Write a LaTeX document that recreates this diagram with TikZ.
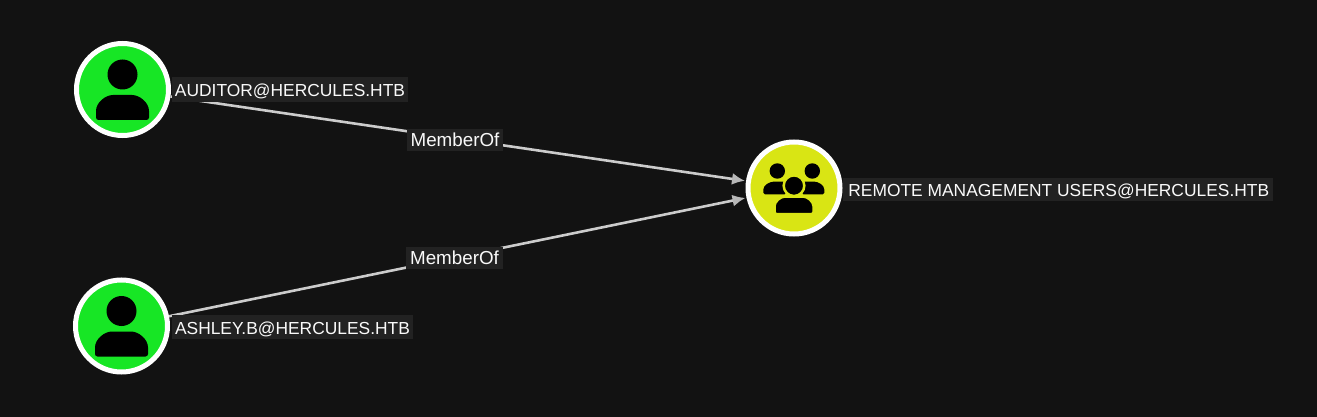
\documentclass[tikz,border=0pt]{standalone}
\usepackage{fontspec}
\setmainfont{Liberation Sans}
\usetikzlibrary{arrows.meta}
\definecolor{bgc}{HTML}{121212}
\definecolor{usergreen}{HTML}{17E625}
\definecolor{groupyellow}{HTML}{D9E514}
\definecolor{labelbg}{HTML}{222222}
\definecolor{edgec}{HTML}{CCCCCC}
\definecolor{textc}{HTML}{FAFAFA}
\newcommand{\lowtext}[1]{\raisebox{-7.4pt}[0pt][0pt]{#1}}
\tikzset{
  objnode/.style={circle,draw=white,line width=5pt,minimum size=92pt,inner sep=0pt},
  usernode/.style={objnode,fill=usergreen},
  groupnode/.style={objnode,fill=groupyellow},
  namelabel/.style={fill=labelbg,text=textc,inner sep=0pt,anchor=center,font=\fontsize{17.4}{20}\selectfont},
  edgelabel/.style={namelabel,font=\fontsize{18.8}{20}\selectfont},
  link/.style={draw=edgec,line width=2.6pt,-{Latex[length=13pt,width=12pt,color=edgec!90!black]},shorten >=1pt},
  pics/personicon/.style={code={
    \fill[black] (0,-15) circle (15);
    \fill[black,rounded corners=2.5pt] (-26.5,30.5) -- (-26.5,24) .. controls (-26.5,13) and (-17,5.5) .. (-7,5.5) -- (7,5.5) .. controls (17,5.5) and (26.5,13) .. (26.5,24) -- (26.5,30.5) -- cycle;
  }},
  pics/groupicon/.style={code={
    \fill[black] (-16.7,-17) circle (7.7);
    \fill[black] (18.3,-17) circle (7.7);
    \fill[black,rounded corners=1.5pt] (-30.7,6.3) -- (-30.7,3) .. controls (-30.7,-3) and (-24,-6.3) .. (-19,-6.3) -- (-8,-6.3) -- (-8,6.3) -- cycle;
    \fill[black,rounded corners=1.5pt] (30.3,6.3) -- (30.3,3) .. controls (30.3,-3) and (24,-6.3) .. (19,-6.3) -- (8,-6.3) -- (8,6.3) -- cycle;
    \fill[black,draw=groupyellow,line width=2.5pt] (0,-2.3) circle (10.3);
    \fill[black,draw=groupyellow,line width=2.5pt,rounded corners=2pt] (-19.5,26) -- (-19.5,20) .. controls (-19.5,14) and (-14,8.5) .. (-7,8.5) -- (7,8.5) .. controls (14,8.5) and (19.5,14) .. (19.5,20) -- (19.5,26) -- cycle;
  }}
}
\begin{document}
\begin{tikzpicture}[x=1pt,y=-1pt]
\useasboundingbox (0,0) rectangle (1317,417);
\fill[bgc] (0,0) rectangle (1317,417);
\node[usernode] (auditor) at (122.5,89.5) {};
\node[usernode] (ashley) at (121.5,326) {};
\node[groupnode] (rmu) at (794,188) {};
\draw[link] (auditor) -- (rmu);
\draw[link] (ashley) -- (rmu);
\pic at (auditor.center) {personicon};
\pic at (ashley.center) {personicon};
\pic at (rmu.center) {groupicon};
\node[namelabel,minimum width=236pt,minimum height=24.5pt] (l1) at (290,89.5) {\lowtext{AUDITOR@HERCULES.HTB}};
\node[namelabel,minimum width=241pt,minimum height=24pt] (l2) at (292.5,327) {\lowtext{ASHLEY.B@HERCULES.HTB}};
\node[namelabel,minimum width=430pt,minimum height=23pt] (l3) at (1058,189.5) {\hspace*{1.5pt}\lowtext{REMOTE MANAGEMENT USERS@HERCULES.HTB}};
\node[edgelabel,minimum width=96pt,minimum height=22pt] (m1) at (455,140) {MemberOf};
\node[edgelabel,minimum width=97pt,minimum height=22pt] (m2) at (454.5,258) {MemberOf};
\end{tikzpicture}
\end{document}
